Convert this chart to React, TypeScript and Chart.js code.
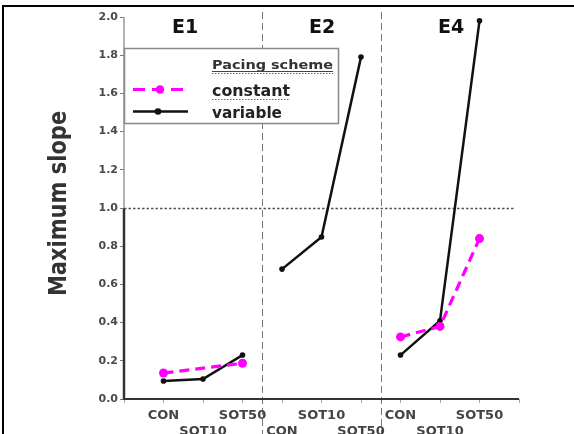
import React, { useEffect, useRef } from 'react';
import { Chart, registerables } from 'chart.js';

Chart.register(...registerables);

// ---- data ----
const experiments = ['E1', 'E2', 'E4'];
const categories = ['CON', 'SOT10', 'SOT50'];
// 0 = upper label row, 1 = lower label row
const labelRowsE1 = [0, 1, 0];
const labelRowsE2 = [1, 0, 1];
const labelRowsE4 = [0, 1, 0];
const constantE1: (number | null)[] = [0.136, null, 0.187];
const constantE2: (number | null)[] = [null, null, null];
const constantE4: (number | null)[] = [0.325, 0.38, 0.84];
const variableE1: (number | null)[] = [0.094, 0.105, 0.23];
const variableE2: (number | null)[] = [0.68, 0.848, 1.79];
const variableE4: (number | null)[] = [0.23, 0.41, 1.98];
const seriesNames = ['constant', 'variable'];
const legendTitle = 'Pacing scheme';
const yTitle = 'Maximum slope';
const referenceValue = 1.0;
const yMin = 0;
const yMax = 2.0;
const yStep = 0.2;

const MAGENTA = '#ff00ff';
const FONT = '"DejaVu Sans", Arial, sans-serif';

function buildPoints(panels: (number | null)[][]) {
  const pts: { x: number; y: number | null }[] = [];
  panels.forEach((vals, i) => {
    vals.forEach((v, j) => {
      if (v != null) pts.push({ x: i * categories.length + j, y: v });
    });
    if (i < panels.length - 1) pts.push({ x: i * categories.length + categories.length - 0.5, y: null });
  });
  return pts;
}

function fitText(
  ctx: CanvasRenderingContext2D,
  text: string,
  x: number,
  y: number,
  font: string,
  width: number,
  color: string
) {
  ctx.save();
  ctx.font = font;
  ctx.fillStyle = color;
  ctx.textAlign = 'left';
  ctx.textBaseline = 'alphabetic';
  const w = ctx.measureText(text).width;
  ctx.translate(x, y);
  ctx.scale(width / w, 1);
  ctx.fillText(text, 0, 0);
  ctx.restore();
}

const decorPlugin = {
  id: 'decor',
  beforeDatasetsDraw(chart: any) {
    const ctx: CanvasRenderingContext2D = chart.ctx;
    const xs = chart.scales.x;
    const ys = chart.scales.y;
    const area = chart.chartArea;
    ctx.save();
    // panel dividers
    ctx.strokeStyle = '#777';
    ctx.lineWidth = 1;
    ctx.setLineDash([7, 4]);
    for (let i = 1; i < experiments.length; i++) {
      const px = Math.round(xs.getPixelForValue(i * categories.length - 0.5)) + 0.5;
      ctx.beginPath();
      ctx.moveTo(px, 12);
      ctx.lineTo(px, 434);
      ctx.stroke();
    }
    // reference line
    const ry = Math.round(ys.getPixelForValue(referenceValue)) + 0.5;
    ctx.strokeStyle = '#555';
    ctx.lineWidth = 1.5;
    ctx.setLineDash([2.5, 2]);
    ctx.beginPath();
    ctx.moveTo(area.left, ry);
    ctx.lineTo(area.right - 5, ry);
    ctx.stroke();
    ctx.setLineDash([]);
    // y axis (two tone)
    const ax = area.left;
    ctx.strokeStyle = '#999';
    ctx.lineWidth = 1.5;
    ctx.beginPath();
    ctx.moveTo(ax, ys.getPixelForValue(yMax));
    ctx.lineTo(ax, ry);
    ctx.stroke();
    ctx.strokeStyle = '#333';
    ctx.lineWidth = 2.5;
    ctx.beginPath();
    ctx.moveTo(ax, ry);
    ctx.lineTo(ax, area.bottom + 1);
    ctx.stroke();
    // x axis
    ctx.strokeStyle = '#333';
    ctx.lineWidth = 2;
    ctx.beginPath();
    ctx.moveTo(area.left, area.bottom);
    ctx.lineTo(area.right, area.bottom);
    ctx.stroke();
    ctx.restore();
  },
  afterDatasetsDraw(chart: any) {
    const ctx: CanvasRenderingContext2D = chart.ctx;
    const xs = chart.scales.x;
    const area = chart.chartArea;
    ctx.save();
    // legend box
    const bx = area.left, by = 48, bw = 214, bh = 75;
    ctx.fillStyle = '#fff';
    ctx.fillRect(bx, by, bw, bh);
    ctx.strokeStyle = '#888';
    ctx.lineWidth = 1.5;
    ctx.strokeRect(bx + 0.5, by + 0.5, bw, bh);
    // legend title
    fitText(ctx, legendTitle, 212, 68.5, `bold 12px ${FONT}`, 121, '#333');
    ctx.strokeStyle = '#444';
    ctx.lineWidth = 1;
    ctx.beginPath();
    ctx.moveTo(212, 71.5);
    ctx.lineTo(333, 71.5);
    ctx.stroke();
    ctx.strokeStyle = '#e03030';
    ctx.setLineDash([1.5, 1.5]);
    ctx.beginPath();
    ctx.moveTo(212, 73.5);
    ctx.lineTo(333, 73.5);
    ctx.stroke();
    ctx.beginPath();
    ctx.moveTo(212, 99.5);
    ctx.lineTo(290, 99.5);
    ctx.stroke();
    ctx.setLineDash([]);
    // legend entries
    fitText(ctx, seriesNames[0], 212, 96, `bold 16px ${FONT}`, 78, '#222');
    fitText(ctx, seriesNames[1], 212, 118, `bold 16px ${FONT}`, 70, '#222');
    // magenta sample
    ctx.strokeStyle = MAGENTA;
    ctx.lineWidth = 3;
    ctx.setLineDash([12, 7]);
    ctx.beginPath();
    ctx.moveTo(133, 89.5);
    ctx.lineTo(190, 89.5);
    ctx.stroke();
    ctx.setLineDash([]);
    ctx.fillStyle = MAGENTA;
    ctx.beginPath();
    ctx.arc(160, 89.5, 4.2, 0, Math.PI * 2);
    ctx.fill();
    // black sample
    ctx.strokeStyle = '#111';
    ctx.lineWidth = 2.5;
    ctx.beginPath();
    ctx.moveTo(133, 111.5);
    ctx.lineTo(188, 111.5);
    ctx.stroke();
    ctx.fillStyle = '#111';
    ctx.beginPath();
    ctx.arc(158, 111.5, 3.3, 0, Math.PI * 2);
    ctx.fill();

    // panel titles
    ctx.fillStyle = '#111';
    ctx.font = `bold 19px ${FONT}`;
    ctx.textAlign = 'center';
    ctx.textBaseline = 'middle';
    const titleX = [185, 322, 451];
    experiments.forEach((e, i) => {
      ctx.fillText(e, titleX[i], 28);
    });

    // category labels (two staggered rows)
    const rows = [labelRowsE1, labelRowsE2, labelRowsE4];
    ctx.font = `bold 13px ${FONT}`;
    ctx.fillStyle = '#444';
    experiments.forEach((_, i) => {
      categories.forEach((c, j) => {
        const px = xs.getPixelForValue(i * categories.length + j);
        const py = rows[i][j] === 0 ? 415.5 : 431.5;
        ctx.fillText(c, px, py);
      });
    });

    // y title
    ctx.save();
    ctx.translate(59, 203.5);
    ctx.rotate(-Math.PI / 2);
    ctx.scale(1, 1.22);
    ctx.font = `bold 21px ${FONT}`;
    ctx.fillStyle = '#333';
    ctx.textAlign = 'center';
    ctx.textBaseline = 'middle';
    ctx.fillText(yTitle, 0, 0);
    ctx.restore();

    ctx.restore();
  },
};

export default function App() {
  const ref = useRef<HTMLCanvasElement | null>(null);

  useEffect(() => {
    if (!ref.current) return;
    const constantPts = buildPoints([constantE1, constantE2, constantE4]);
    const variablePts = buildPoints([variableE1, variableE2, variableE4]);
    const chart = new Chart(ref.current, {
      type: 'line',
      data: {
        datasets: [
          {
            label: seriesNames[0],
            data: constantPts as any,
            borderColor: MAGENTA,
            backgroundColor: MAGENTA,
            borderWidth: 3.2,
            borderDash: [10, 6],
            pointRadius: 4.5,
            pointBorderWidth: 0,
            pointBackgroundColor: MAGENTA,
            spanGaps: false,
            tension: 0,
          },
          {
            label: seriesNames[1],
            data: variablePts as any,
            borderColor: '#111',
            backgroundColor: '#111',
            borderWidth: 2.5,
            pointRadius: 2.8,
            pointBorderWidth: 0,
            pointBackgroundColor: '#111',
            spanGaps: false,
            tension: 0,
          },
        ],
      },
      options: {
        responsive: false,
        animation: false,
        devicePixelRatio: 1,
        layout: { padding: { top: 17, right: 55, left: 0, bottom: 0 } },
        plugins: {
          legend: { display: false },
          tooltip: { enabled: false },
          title: { display: false },
        },
        scales: {
          x: {
            type: 'linear',
            min: -1,
            max: experiments.length * categories.length,
            ticks: { stepSize: 1, callback: () => '', autoSkip: false },
            grid: { drawOnChartArea: false, tickLength: 4, color: '#aaa' },
            border: { display: false },
            afterFit: (s: any) => {
              s.height = 35;
            },
          },
          y: {
            min: yMin,
            max: yMax,
            ticks: {
              stepSize: yStep,
              padding: 2,
              color: '#4a4a4a',
              font: { family: FONT, weight: 'bold', size: 11 },
              callback: (v: any) => Number(v).toFixed(1),
            },
            grid: { drawOnChartArea: false, tickLength: 4, color: '#777' },
            border: { display: false },
            afterFit: (s: any) => {
              s.width = 124;
            },
          },
        },
      },
      plugins: [decorPlugin],
    });
    return () => chart.destroy();
  }, []);

  return (
    <div style={{ position: 'fixed', left: 0, top: 0, width: 574, height: 434, background: '#fff', overflow: 'hidden' }}>
      <canvas ref={ref} width={574} height={434} style={{ position: 'absolute', left: 0, top: 0, width: 574, height: 434 }} />
      <div
        style={{
          position: 'absolute',
          left: 2,
          top: 5,
          right: 0,
          bottom: 0,
          borderTop: '2px solid #000',
          borderLeft: '2px solid #000',
          pointerEvents: 'none',
        }}
      />
    </div>
  );
}
